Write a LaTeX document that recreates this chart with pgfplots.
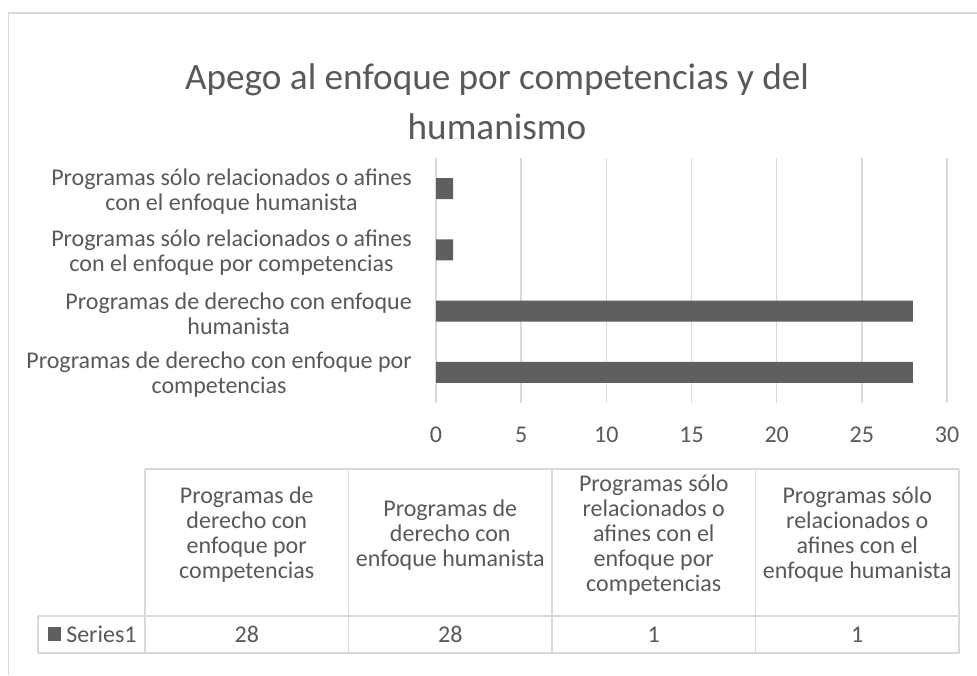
\documentclass[border=0pt]{standalone}
\usepackage{pgfplots}
\pgfplotsset{compat=1.18}
\usepackage{fontspec}
\setmainfont{Carlito}
\definecolor{txt}{HTML}{595959}
\definecolor{grd}{HTML}{D9D9D9}
\definecolor{barc}{HTML}{5F5F5F}
\begin{document}
\begin{tikzpicture}
\begin{scope}[x=0.75pt,y=-0.75pt]
\useasboundingbox (0,0) rectangle (977,675);
\fill[white] (0,0) rectangle (977,675);
\draw[grd, line width=1.1pt] (8.5,675) -- (8.5,13) -- (977,13);
% title
\node[txt, font=\fontsize{27.9}{35}\selectfont, inner sep=0pt] at (497,80) {Apego al enfoque por competencias y del};
\node[txt, font=\fontsize{27.9}{35}\selectfont, inner sep=0pt] at (497,127) {humanismo};
% data table
\begin{scope}[grd, line width=1.1pt]
\draw (145,469) -- (959,469);
\foreach \x in {145,348.5,552,755.5,959} \draw (\x,469) -- (\x,653);
\draw (38,616) -- (959,616);
\draw (38,653) -- (959,653);
\draw (38,616) -- (38,653);
\end{scope}
\begin{scope}[every node/.style={txt, font=\fontsize{18}{18.75}\selectfont, align=center, inner sep=0pt}]
\node at (246.75,535) {Programas de\\derecho con\\enfoque por\\competencias};
\node at (450.25,535) {Programas de\\derecho con\\enfoque humanista};
\node at (653.75,535) {Programas sólo\\relacionados o\\afines con el\\enfoque por\\competencias};
\node at (857.25,535) {Programas sólo\\relacionados o\\afines con el\\enfoque humanista};
\node at (246.75,634.5) {28};
\node at (450.25,634.5) {28};
\node at (653.75,634.5) {1};
\node at (857.25,634.5) {1};
\node[anchor=west] at (66,634.5) {Series1};
\end{scope}
\fill[barc] (48,627) rectangle (61,641);
\end{scope}
\begin{axis}[
  at={(327pt,-302.25pt)}, anchor=south west,
  scale only axis, width=383.25pt, height=183.75pt,
  xbar, bar width=0.345,
  xmin=0, xmax=30, ymin=-0.5, ymax=3.5,
  ytick={0,1,2,3},
  yticklabels={{Programas de derecho con enfoque por\\competencias},
               {Programas de derecho con enfoque\\humanista},
               {Programas sólo relacionados o afines\\con el enfoque por competencias},
               {Programas sólo relacionados o afines\\con el enfoque humanista}},
  xtick={0,5,...,30},
  xmajorgrids,
  major grid style={grd, line width=1.1pt},
  axis line style={draw=none},
  major tick length=0pt,
  tick label style={txt, font=\fontsize{18}{18.75}\selectfont},
  /pgf/number format/assume math mode=true,
  yticklabel style={align=center, inner sep=0pt, xshift=-18pt, yshift=-2pt},
  xticklabel style={inner sep=0pt, yshift=-18pt},
]
\addplot[fill=barc, draw=none] coordinates {(28,0) (28,1) (1,2) (1,3)};
\end{axis}
\end{tikzpicture}
\end{document}
